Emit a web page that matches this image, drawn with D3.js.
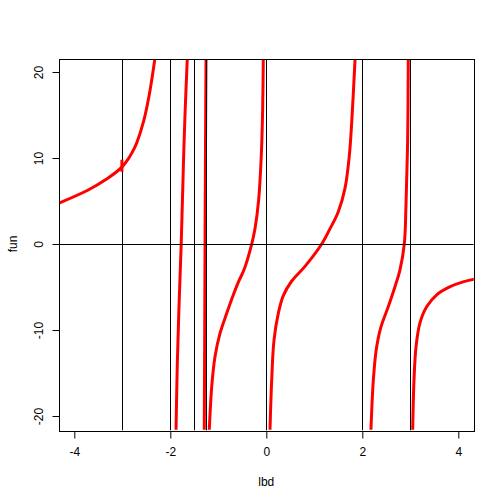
<!DOCTYPE html>
<html>
  <head>
    <meta charset="utf-8">
    <title>fun vs lbd</title>
    <script src="https://d3js.org/d3.v7.min.js"></script>
    <style>
      body { margin: 0; background: #fff; }
      text { font-family: "Liberation Sans", Arial, sans-serif; font-size: 12px; fill: #000; }
      .curve { fill: none; stroke: #ff0000; stroke-width: 3px; }
      .ref { stroke: #000; stroke-width: 1px; }
    </style>
  </head>
  <body>
<script>

// values, one array per branch between poles
var branch1 = [[-4.33, 4.73], [-3.71, 6.28], [-3.36, 7.44], [-3.0, 9.0], [-2.735, 11.3],
               [-2.56, 14.2], [-2.44, 17.3], [-2.32, 21.6]];
var branch2 = [[-1.881, -21.6], [-1.854, -13.9], [-1.823, -8.0], [-1.792, -3.0], [-1.773, 0],
               [-1.748, 5.0], [-1.723, 10.0], [-1.694, 15.0], [-1.646, 21.6]];
var branch3 = [[-1.292, -21.6], [-1.283, -10], [-1.276, 0], [-1.268, 10], [-1.256, 21.6]];
var branch4 = [[-1.1875, -21.6], [-1.1375, -16.6], [-1.069, -13.1], [-0.965, -10.4], [-0.825, -8.06],
               [-0.7, -6.1], [-0.58, -4.4], [-0.465, -3.0], [-0.304, 0], [-0.235, 1.8],
               [-0.16, 5.1], [-0.1, 10.9], [-0.075, 16.0], [-0.0625, 21.6]];
var branch5 = [[0.077, -21.6], [0.1125, -15.8], [0.16, -11.2], [0.25, -8.06], [0.354, -6.0],
               [0.53, -4.3], [0.806, -2.6], [1.154, 0], [1.32, 1.7], [1.5, 3.76], [1.64, 6.5],
               [1.73, 10.3], [1.78, 14.2], [1.85, 21.6]];
var branch6 = [[2.18, -21.6], [2.23, -15.8], [2.29, -12.3], [2.38, -9.8], [2.54, -7.3],
               [2.68, -4.96], [2.785, -3.0], [2.875, 0], [2.91, 4.5], [2.945, 12.3], [2.958, 21.6]];
var branch7 = [[3.05, -21.6], [3.077, -15.8], [3.12, -11.9], [3.20, -9.2], [3.34, -7.3],
               [3.55, -5.9], [3.83, -4.96], [4.10, -4.4], [4.33, -4.1]];
// little jump of the curve at lbd = -3
var jumpAtMinus3 = [[-3.008, 8.4], [-3.008, 9.8]];

var vLines = [-3, -2, -1.5, -1.25, 0, 2, 3];
var hLines = [0];
var xTicks = [-4, -2, 0, 2, 4];
var yTicks = [-20, -10, 0, 10, 20];

var W = 504, H = 504;
var margin = {top: 59.04, right: 30.24, bottom: 73.44, left: 59.04};

var x = d3.scaleLinear().domain([-4.318, 4.322]).range([margin.left, W - margin.right]);
var y = d3.scaleLinear().domain([-21.69, 21.51]).range([H - margin.bottom, margin.top]);

var svg = d3.select("body").append("svg")
    .attr("width", W)
    .attr("height", H);

svg.append("clipPath").attr("id", "plotclip")
  .append("rect")
    .attr("x", margin.left)
    .attr("y", margin.top)
    .attr("width", W - margin.left - margin.right)
    .attr("height", H - margin.top - margin.bottom);

var plot = svg.append("g").attr("clip-path", "url(#plotclip)");

// the curve
var line = d3.line()
    .curve(d3.curveCatmullRom.alpha(0.5))
    .x(function(d) { return x(d[0]); })
    .y(function(d) { return y(d[1]); });

[branch1, branch2, branch3, branch4, branch5, branch6, branch7].forEach(function(b) {
  plot.append("path").datum(b).attr("class", "curve").attr("d", line);
});

// abline(v=...), abline(h=0)
plot.selectAll(".vline").data(vLines).enter().append("line")
    .attr("class", "ref")
    .attr("x1", function(d) { return Math.round(x(d)) + 0.5; })
    .attr("x2", function(d) { return Math.round(x(d)) + 0.5; })
    .attr("y1", margin.top)
    .attr("y2", H - margin.bottom);

plot.selectAll(".hline").data(hLines).enter().append("line")
    .attr("class", "ref")
    .attr("x1", margin.left)
    .attr("x2", W - margin.right)
    .attr("y1", function(d) { return Math.round(y(d)) + 0.5; })
    .attr("y2", function(d) { return Math.round(y(d)) + 0.5; });

plot.append("path").datum(jumpAtMinus3).attr("class", "curve")
    .attr("stroke-width", 2)
    .attr("d", d3.line().x(function(d) { return x(d[0]); }).y(function(d) { return y(d[1]); }));

// box
svg.append("rect")
    .attr("x", Math.round(margin.left) + 0.5)
    .attr("y", Math.round(margin.top) + 0.5)
    .attr("width", Math.round(W - margin.right) - Math.round(margin.left))
    .attr("height", Math.round(H - margin.bottom) - Math.round(margin.top))
    .attr("fill", "none")
    .attr("stroke", "#000");

// bottom axis, R style
var xAxis = d3.axisBottom(x).tickValues(xTicks).tickSize(7).tickPadding(9)
    .tickFormat(function(d) { return d < 0 ? "-" + Math.abs(d) : d; });
var gx = svg.append("g")
    .attr("transform", "translate(0," + (Math.round(H - margin.bottom) + 0.5) + ")")
    .call(xAxis);
gx.select(".domain").attr("d", "M" + x(xTicks[0]) + ",0H" + x(xTicks[xTicks.length - 1]));

// left axis, labels turned
var yAxis = d3.axisLeft(y).tickValues(yTicks).tickSize(7)
    .tickFormat(function(d) { return d < 0 ? "-" + Math.abs(d) : d; });
var gy = svg.append("g")
    .attr("transform", "translate(" + (Math.round(margin.left) + 0.5) + ",0)")
    .call(yAxis);
gy.select(".domain").attr("d", "M0," + y(yTicks[0]) + "V" + y(yTicks[yTicks.length - 1]));
gy.selectAll(".tick text")
    .attr("x", null).attr("dy", null)
    .attr("transform", "translate(-17,0) rotate(-90)")
    .attr("text-anchor", "middle");

[gx, gy].forEach(function(g) {
  g.attr("font-size", null).attr("font-family", null);
  g.selectAll("line, path").attr("stroke", "#000");
  g.selectAll("text").attr("fill", "#000");
});

// axis titles
svg.append("text")
    .attr("x", x(0))
    .attr("y", 486)
    .attr("text-anchor", "middle")
    .text("lbd");

svg.append("text")
    .attr("transform", "translate(17," + y(0) + ") rotate(-90)")
    .attr("text-anchor", "middle")
    .text("fun");

</script>
</body>
</html>
